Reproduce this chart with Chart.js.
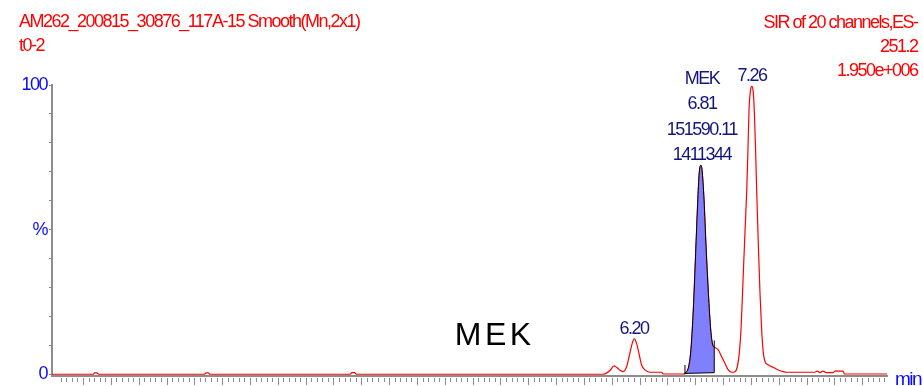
<!DOCTYPE html>
<html>
<head>
<meta charset="utf-8">
<script src="https://cdn.jsdelivr.net/npm/chart.js@4.4.1/dist/chart.umd.min.js"></script>
<style>
  html, body { margin: 0; padding: 0; background: #fff; }
  #wrap { width: 923px; height: 386px; position: relative; }
</style>
</head>
<body>
<div id="wrap"><canvas id="myChart"></canvas></div>
<script>
// retention time (min) / relative intensity (%)
var times = [0.971, 1.34, 1.355, 1.375, 1.39, 2.34, 2.355, 2.375, 2.39, 3.65, 3.665, 3.69, 3.705,
  5.92, 5.984, 6.02, 6.043, 6.075, 6.103, 6.133, 6.163, 6.184, 6.202, 6.223, 6.244, 6.268, 6.298,
  6.342, 6.447, 6.463, 6.64, 6.658, 6.688, 6.709, 6.733, 6.754, 6.772, 6.786, 6.80, 6.811, 6.829,
  6.847, 6.868, 6.889, 6.907, 6.921, 6.957, 6.987, 7.017, 7.047, 7.078, 7.107, 7.128, 7.146, 7.162,
  7.180, 7.198, 7.213, 7.224, 7.233, 7.247, 7.258, 7.269, 7.281, 7.292, 7.302, 7.317, 7.332, 7.346,
  7.362, 7.377, 7.407, 7.452, 7.496, 7.541, 7.572, 7.826, 7.844, 7.871, 7.898, 7.925, 7.988, 8.006,
  8.078, 8.091, 8.473]
var intensity = [0, 0, 0.5, 0.5, 0, 0, 0.5, 0.5, 0, 0, 0.6, 0.6, 0,
  0, 1.3, 2.9, 2.4, 1.4, 0.9, 2.6, 7.3, 10.7, 12.2, 10.7, 7.3, 3.2, 1.5,
  0.7, 0.7, 0.1, 0.1, 0.35, 2.1, 7.3, 22.2, 41.8, 59.1, 69.5, 72.2, 70.6, 60.2,
  44.1, 28, 15.3, 10.1, 9.4, 8.4, 6.1, 3.8, 1.5, 0.7, 0.9, 2.6, 7.3, 16,
  33, 50, 63.6, 78, 91, 98.3, 99.5, 98.3, 91, 78, 63.6, 45, 28, 16,
  7.3, 4.4, 3.2, 2.4, 1.5, 0.9, 0.7, 0.7, 1.1, 0.6, 1.1, 0.6, 0.6, 1.1,
  1.1, 0.1, 0.1]

var yTicks = [0, 10, 20, 30, 40, 50, 60, 70, 80, 90, 100]
var yTickValues = [0, 50, 100]
var yTickLabels = ['0', '%', '100']

var peakTimes = [6.20, 6.81, 7.26]
var peakApex = [12.2, 72.2, 99.5]
var peakLabels = [['6.20'], ['MEK', '6.81', '151590.11', '1411344'], ['7.26']]

// MEK integration window and its baseline
var integTimes = [6.658, 6.921]
var integBase = [0.3, 0.55]
var integMarkTops = [3.2, 11.7]

var headerLeft = ['AM262_200815_30876_117A-15 Smooth(Mn,2x1)', 't0-2']
var headerRight = ['SIR of 20 channels,ES-', '251.2', '1.950e+006']
var compoundName = 'MEK'
var compoundAt = [4.93, 10.1]

const FONT = '"Liberation Sans", Arial, sans-serif';
const GREY = '#8c8c8c';

const chrom = times.map((t, i) => ({x: t, y: intensity[i]}));
const window_ = chrom.filter(p => p.x >= integTimes[0] && p.x <= integTimes[1]);
const basePts = integTimes.map((t, i) => ({x: t, y: integBase[i]}));
const markPts = [
  {x: integTimes[0], y: 0}, {x: integTimes[0], y: integMarkTops[0]},
  {x: (integTimes[0] + integTimes[1]) / 2, y: null},
  {x: integTimes[1], y: integBase[1]}, {x: integTimes[1], y: integMarkTops[1]}
];

const tight = {
  id: 'tight',
  beforeLayout(chart) { chart.ctx.letterSpacing = '-1.5px'; },
  beforeDraw(chart) { chart.ctx.letterSpacing = '-1.5px'; }
};

const marks = {
  id: 'marks',
  afterDraw(chart) {
    const ctx = chart.ctx, xs = chart.scales.x, ys = chart.scales.y, a = chart.chartArea;
    ctx.save();
    // minor / major ticks below the time axis
    ctx.strokeStyle = GREY;
    ctx.lineWidth = 1;
    ctx.beginPath();
    for (let k = Math.ceil(xs.min / 0.05); k * 0.05 <= xs.max + 1e-9; k++) {
      const px = Math.round(xs.getPixelForValue(k * 0.05)) + 0.5;
      if (px < a.left + 5) continue;
      const len = (k % 5 === 0) ? 7 : 4;
      ctx.moveTo(px, a.bottom + 2);
      ctx.lineTo(px, a.bottom + 2 + len);
    }
    ctx.stroke();

    ctx.letterSpacing = '-1.5px';
    ctx.textBaseline = 'alphabetic';
    // headers
    ctx.font = '18px ' + FONT;
    ctx.fillStyle = '#ff0000';
    ctx.textAlign = 'left';
    headerLeft.forEach((s, i) => ctx.fillText(s, 19, 27 + i * 24.3));
    ctx.textAlign = 'right';
    headerRight.forEach((s, i) => ctx.fillText(s, 917.5, 27.5 + i * 24.3));

    // peak labels
    ctx.fillStyle = '#141480';
    ctx.textAlign = 'center';
    peakTimes.forEach((t, i) => {
      const px = xs.getPixelForValue(t);
      const py = ys.getPixelForValue(peakApex[i]) - 5;
      const lines = peakLabels[i];
      lines.forEach((s, j) => ctx.fillText(s, px, py - (lines.length - 1 - j) * 25.5));
    });

    // axis unit
    ctx.fillStyle = '#0a0aff';
    ctx.textAlign = 'left';
    ctx.font = '19px ' + FONT;
    ctx.fillText('min', a.right + 8, 385);

    // compound name
    ctx.letterSpacing = '3.5px';
    ctx.font = '32px ' + FONT;
    ctx.fillStyle = '#000';
    ctx.textAlign = 'center';
    ctx.fillText(compoundName, xs.getPixelForValue(compoundAt[0]) + 2, ys.getPixelForValue(compoundAt[1]));
    ctx.restore();
  }
};

const myChart = new Chart(document.getElementById('myChart'), {
  type: 'line',
  data: {
    datasets: [{
      data: chrom,
      borderColor: '#ff0000',
      borderWidth: 1.2,
      fill: false,
      cubicInterpolationMode: 'monotone',
      order: 4
    }, {
      data: basePts,
      borderColor: '#000',
      borderWidth: 1,
      fill: false,
      order: 1
    }, {
      data: window_,
      borderColor: '#000',
      borderWidth: 1,
      backgroundColor: '#8080ff',
      fill: 1,
      cubicInterpolationMode: 'monotone',
      order: 2
    }, {
      data: markPts,
      borderColor: '#000',
      borderWidth: 1,
      fill: false,
      spanGaps: false,
      order: 1
    }]
  },
  options: {
    responsive: true,
    maintainAspectRatio: false,
    animation: false,
    layout: { padding: { left: 0, top: 85, right: 36, bottom: 0 } },
    elements: { point: { radius: 0, hoverRadius: 0 } },
    plugins: { legend: { display: false }, tooltip: { enabled: false } },
    scales: {
      x: {
        type: 'linear',
        min: 0.971,
        max: 8.473,
        grid: { display: false },
        ticks: { display: false },
        border: { color: GREY, width: 2 },
        afterFit: s => { s.height = 10; }
      },
      y: {
        min: -0.6,
        max: 100,
        afterBuildTicks: s => { s.ticks = yTicks.map(v => ({value: v})); },
        grid: { drawOnChartArea: false, tickLength: 3, tickColor: GREY, tickWidth: 1 },
        border: { color: GREY, width: 2 },
        ticks: {
          color: '#0a0aff',
          padding: 2,
          font: { size: 18, family: FONT, lineHeight: 0.8 },
          callback: v => { const i = yTickValues.indexOf(v); return i < 0 ? '' : yTickLabels[i]; }
        },
        afterFit: s => { s.width = 52; }
      }
    }
  },
  plugins: [tight, marks]
});
</script>
</body>
</html>
